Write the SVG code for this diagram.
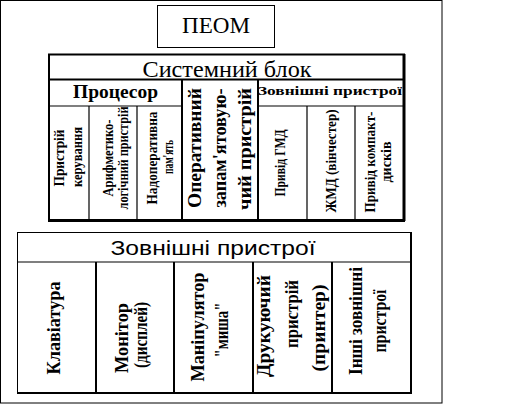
<svg xmlns="http://www.w3.org/2000/svg" width="512" height="405" viewBox="0 0 512 405">
<style>
.frame{fill:none;stroke:#000;stroke-width:1}
.box{fill:#fff;stroke:#000;stroke-width:2}
.thick{stroke:#000;stroke-width:3;fill:none}
.l2{stroke:#000;stroke-width:2;fill:none}
.l1{stroke:#000;stroke-width:1.2;fill:none}
text{fill:#000;font-family:"Liberation Serif","Times New Roman",serif}
.t-peom{font-size:23px}
.t-sys{font-size:24px}
.t-proc{font-size:18px;font-weight:bold}
.t-ext{font-size:13px;font-weight:bold}
.t-sm{font-size:15px;font-weight:bold}
.t-ram{font-size:19px;font-weight:bold}
.t-big{font-size:18px;font-weight:bold}
.t-sans{font-family:"Liberation Sans",Arial,sans-serif;font-size:20px}
</style>
<rect x="0.5" y="0.5" width="441.5" height="402.5" class="frame"/>
<g id="peom">
<rect x="157.5" y="5.5" width="117" height="42" class="frame"/>
<text class="t-peom" x="216" y="33" text-anchor="middle" textLength="68" lengthAdjust="spacingAndGlyphs">ПЕОМ</text>
</g>
<g id="system-block">
<rect x="49" y="54.5" width="355" height="165.5" class="box"/>
<path class="thick" d="M404 54 V221 M48 220.5 H405"/>
<path class="l2" d="M49 79.5 H404"/>
<text class="t-sys" x="227" y="77" text-anchor="middle" textLength="169" lengthAdjust="spacingAndGlyphs">Системний блок</text>
</g>
<g id="processor">
<path class="l1" d="M49 106 H182"/>
<path class="l2" d="M182 79 V220"/>
<text class="t-proc" x="115.5" y="98" text-anchor="middle" textLength="85" lengthAdjust="spacingAndGlyphs">Процесор</text>
<path class="l1" d="M89 106 V220 M137 106 V220"/>
<g id="control-unit">
<text class="t-sm" transform="translate(64,158) rotate(-90)" text-anchor="middle" textLength="57" lengthAdjust="spacingAndGlyphs">Пристрій</text>
<text class="t-sm" transform="translate(82,157) rotate(-90)" text-anchor="middle" textLength="60" lengthAdjust="spacingAndGlyphs">керування</text>
</g>
<g id="alu">
<text class="t-sm" transform="translate(113,158) rotate(-90)" text-anchor="middle" textLength="77" lengthAdjust="spacingAndGlyphs">Арифметико-</text>
<text class="t-sm" transform="translate(128,158) rotate(-90)" text-anchor="middle" textLength="103" lengthAdjust="spacingAndGlyphs">логічний пристрій</text>
</g>
<g id="cache">
<text class="t-sm" transform="translate(157,158) rotate(-90)" text-anchor="middle" textLength="93" lengthAdjust="spacingAndGlyphs">Надоперативна</text>
<text class="t-sm" transform="translate(173,157) rotate(-90)" text-anchor="middle" textLength="34" lengthAdjust="spacingAndGlyphs">пам'ять</text>
</g>
</g>
<g id="ram">
<path class="l2" d="M258 79 V220"/>
<text class="t-ram" transform="translate(201,148) rotate(-90)" text-anchor="middle" textLength="120" lengthAdjust="spacingAndGlyphs">Оперативний</text>
<text class="t-ram" transform="translate(226,148) rotate(-90)" text-anchor="middle" textLength="119" lengthAdjust="spacingAndGlyphs">запам'ятовую-</text>
<text class="t-ram" transform="translate(251,149) rotate(-90)" text-anchor="middle" textLength="122" lengthAdjust="spacingAndGlyphs">чий пристрій</text>
</g>
<g id="internal-external">
<path class="l1" d="M258 106 H404"/>
<text class="t-ext" x="330" y="95" text-anchor="middle" textLength="144" lengthAdjust="spacingAndGlyphs">Зовнішні пристрої</text>
<path class="l1" d="M307 106 V220 M355 106 V220"/>
<g id="fdd">
<text class="t-sm" transform="translate(285,163) rotate(-90)" text-anchor="middle" textLength="67" lengthAdjust="spacingAndGlyphs">Привід ГМД</text>
</g>
<g id="hdd">
<text class="t-sm" transform="translate(336,161) rotate(-90)" text-anchor="middle" textLength="103" lengthAdjust="spacingAndGlyphs">ЖМД (вінчестер)</text>
</g>
<g id="cd">
<text class="t-sm" transform="translate(375,162) rotate(-90)" text-anchor="middle" textLength="101" lengthAdjust="spacingAndGlyphs">Привід компакт-</text>
<text class="t-sm" transform="translate(391,162) rotate(-90)" text-anchor="middle" textLength="41" lengthAdjust="spacingAndGlyphs">дисків</text>
</g>
</g>
<g id="external-devices">
<rect x="17.5" y="232.5" width="393.5" height="160.5" class="frame"/>
<path class="l2" d="M411 232 V394 M17 393 H412"/>
<path class="l1" d="M17 262 H411"/>
<text class="t-sans" x="213" y="255" text-anchor="middle" textLength="205" lengthAdjust="spacingAndGlyphs">Зовнішні пристрої</text>
<path class="l2" d="M96 262 V393 M174 262 V393 M253 262 V393 M332 262 V393"/>
<g id="keyboard">
<text class="t-big" transform="translate(60,328) rotate(-90)" text-anchor="middle" textLength="93" lengthAdjust="spacingAndGlyphs">Клавіатура</text>
</g>
<g id="monitor">
<text class="t-big" transform="translate(128,338) rotate(-90)" text-anchor="middle" textLength="70" lengthAdjust="spacingAndGlyphs">Монітор</text>
<text class="t-big" transform="translate(147,335) rotate(-90)" text-anchor="middle" textLength="66" lengthAdjust="spacingAndGlyphs">(дисплей)</text>
</g>
<g id="mouse">
<text class="t-big" transform="translate(204,327) rotate(-90)" text-anchor="middle" textLength="109" lengthAdjust="spacingAndGlyphs">Маніпулятор</text>
<text class="t-big" transform="translate(228,330) rotate(-90)" text-anchor="middle" textLength="55" lengthAdjust="spacingAndGlyphs">"миша"</text>
</g>
<g id="printer">
<text class="t-big" transform="translate(270,326) rotate(-90)" text-anchor="middle" textLength="102" lengthAdjust="spacingAndGlyphs">Друкуючий</text>
<text class="t-big" transform="translate(298,314) rotate(-90)" text-anchor="middle" textLength="68" lengthAdjust="spacingAndGlyphs">пристрій</text>
<text class="t-big" transform="translate(325,328) rotate(-90)" text-anchor="middle" textLength="87" lengthAdjust="spacingAndGlyphs">(принтер)</text>
</g>
<g id="other">
<text class="t-big" transform="translate(362,321) rotate(-90)" text-anchor="middle" textLength="108" lengthAdjust="spacingAndGlyphs">Інші зовнішні</text>
<text class="t-big" transform="translate(386,321) rotate(-90)" text-anchor="middle" textLength="63" lengthAdjust="spacingAndGlyphs">пристрої</text>
</g>
</g>
<g id="connectors"/>
</svg>
